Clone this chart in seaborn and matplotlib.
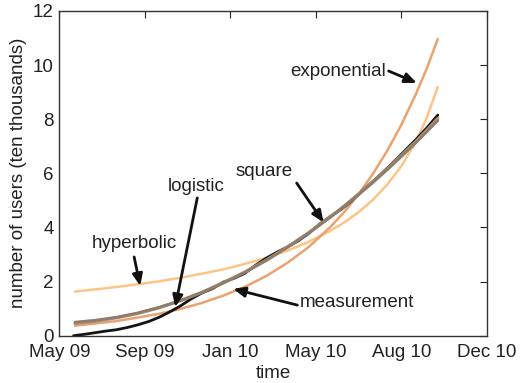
import matplotlib
matplotlib.use("Agg")
import matplotlib.pyplot as plt
import seaborn as sns
import pandas as pd

# ---- data (days since 1 May 2009, users in ten thousands) ----
fit_day = [22, 50, 80, 110, 140, 170, 200, 230, 260, 290, 320, 350, 380, 400, 420, 440,
           460, 480, 500, 515, 531]
exponential = [0.37, 0.45, 0.54, 0.67, 0.81, 0.99, 1.21, 1.48, 1.80, 2.20, 2.69, 3.28,
               4.01, 4.58, 5.23, 5.98, 6.83, 7.80, 8.91, 9.84, 10.96]
hyperbolic = [1.63, 1.71, 1.80, 1.90, 2.01, 2.14, 2.29, 2.45, 2.65, 2.87, 3.14, 3.47,
              3.87, 4.19, 4.57, 5.02, 5.58, 6.27, 7.16, 8.02, 9.19]
square = [0.45, 0.53, 0.66, 0.82, 1.03, 1.29, 1.60, 1.96, 2.35, 2.79, 3.28, 3.81, 4.39,
          4.80, 5.24, 5.69, 6.16, 6.66, 7.17, 7.58, 8.03]
logistic = [0.50, 0.57, 0.68, 0.84, 1.05, 1.30, 1.60, 1.94, 2.33, 2.77, 3.26, 3.79, 4.37,
            4.78, 5.21, 5.66, 6.13, 6.62, 7.12, 7.52, 7.95]

meas_day = [20, 35, 50, 65, 80, 95, 110, 125, 140, 155, 170, 185, 200, 215, 230, 245,
            260, 275, 290, 305, 320, 335, 350, 365, 380, 395, 410, 425, 440, 455, 470,
            485, 500, 515, 531]
measurement = [0.00, 0.05, 0.11, 0.17, 0.22, 0.30, 0.40, 0.52, 0.68, 0.88, 1.10, 1.36, 1.58,
               1.74, 1.98, 2.12, 2.30, 2.60, 2.86, 3.08, 3.28, 3.50, 3.78, 4.12, 4.40, 4.66,
               4.98, 5.36, 5.70, 6.06, 6.44, 6.84, 7.24, 7.66, 8.15]

tick_days = [0, 120, 240, 360, 480, 600]
tick_labels = ["May 09", "Sep 09", "Jan 10", "May 10", "Aug 10", "Dec 10"]
y_ticks = [0, 2, 4, 6, 8, 10, 12]

sns.set_style("white")
plt.rcParams["font.family"] = ["Liberation Sans", "DejaVu Sans"]
FS = 13.5

fig = plt.figure(figsize=(5.2, 3.83), dpi=100)
ax = fig.add_axes([0.114, 0.1235, 0.8225, 0.848])

def draw(x, y, color, lw):
    df = pd.DataFrame({"day": x, "value": y})
    sns.lineplot(data=df, x="day", y="value", color=color, lw=lw, ax=ax,
                 sort=False, estimator=None)

draw(fit_day, hyperbolic, "#fdc585", 1.8)
draw(fit_day, exponential, "#eaa26e", 1.8)
draw(meas_day, measurement, "#141414", 2.0)
draw(fit_day, square, "#a8937c", 2.3)
draw(fit_day, logistic, "#8f7c6a", 2.0)

ax.set_xlim(0, 600)
ax.set_ylim(0, 12)
ax.set_xticks(tick_days)
ax.set_xticklabels(tick_labels)
ax.set_yticks(y_ticks)
ax.tick_params(direction="in", top=True, right=True, length=5, width=0.8,
               labelsize=FS, colors="#222222")
ax.tick_params(axis="x", pad=6)
ax.tick_params(axis="y", pad=4)
for s in ax.spines.values():
    s.set_color("#333333")
    s.set_linewidth(1.0)
ax.set_xlabel("time", fontsize=FS, color="#222222", labelpad=3)
ax.set_ylabel("number of users (ten thousands)", fontsize=FS, color="#222222", labelpad=4)

arrow = dict(arrowstyle="-|>,head_length=0.7,head_width=0.3", color="#111111", lw=2.0,
             shrinkA=0, shrinkB=0)

# exponential
ax.text(458, 9.78, "exponential", fontsize=FS, ha="right", va="center", color="#222222")
ax.annotate("", xy=(501.5, 9.34), xytext=(462, 9.78), arrowprops=arrow)
# square
ax.text(288, 6.08, "square", fontsize=FS, ha="center", va="center", color="#222222")
ax.annotate("", xy=(370.7, 4.19), xytext=(333, 5.64), arrowprops=arrow)
# logistic
ax.text(192, 5.53, "logistic", fontsize=FS, ha="center", va="center", color="#222222")
ax.annotate("", xy=(162.6, 1.06), xytext=(193.6, 5.09), arrowprops=arrow)
# hyperbolic
ax.text(105, 3.39, "hyperbolic", fontsize=FS, ha="center", va="center", color="#222222")
ax.annotate("", xy=(113.5, 1.84), xytext=(105, 2.91), arrowprops=arrow)
# measurement
ax.text(337, 1.21, "measurement", fontsize=FS, ha="left", va="center", color="#222222")
ax.annotate("", xy=(244, 1.73), xytext=(334, 1.13), arrowprops=arrow)

fig.savefig("out.png", dpi=100)
